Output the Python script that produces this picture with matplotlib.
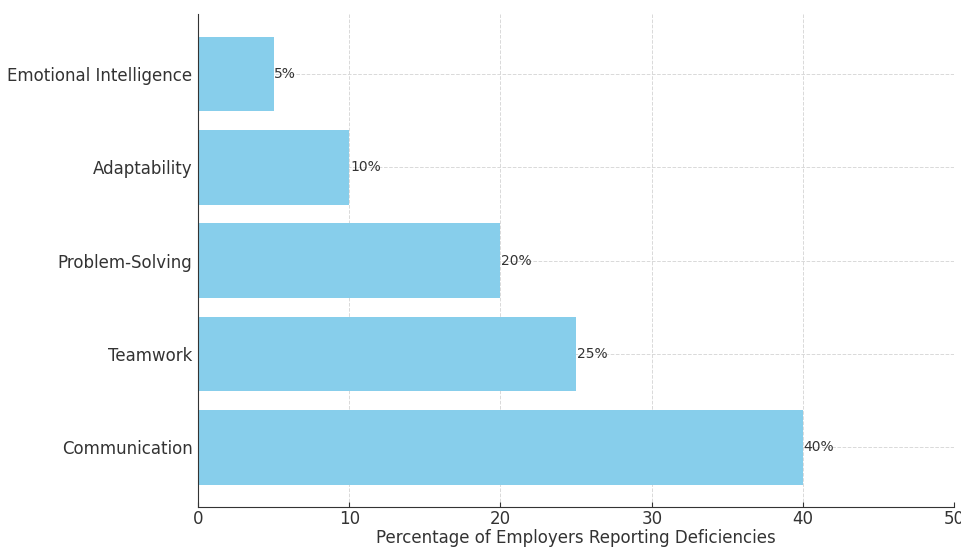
import matplotlib.pyplot as plt

plt.rcParams["font.family"] = ["DejaVu Sans"]

skills = ["Communication", "Teamwork", "Problem-Solving", "Adaptability", "Emotional Intelligence"]
percentages = [40, 25, 20, 10, 5]

fig = plt.figure(figsize=(9.61, 5.5), dpi=100)
ax = fig.add_axes([0.206, 0.078, 0.787, 0.896])

bars = ax.barh(skills, percentages, color="skyblue", height=0.8)
for bar, val in zip(bars, percentages):
    ax.text(bar.get_width() + 0.05, bar.get_y() + bar.get_height() / 2, f"{val}%",
            va="center", ha="left", fontsize=10, color="#333333")

ax.set_xlim(0, 50)
ax.set_xlabel("Percentage of Employers Reporting Deficiencies", fontsize=12,
              color="#333333", labelpad=1)
ax.tick_params(axis="both", labelsize=12, colors="#333333", direction="in", pad=2)
ax.tick_params(axis="y", pad=4)
ax.grid(True, linestyle="--", color="#d9d9d9", linewidth=0.7)
ax.set_axisbelow(True)
ax.spines["top"].set_visible(False)
ax.spines["right"].set_visible(False)
for side in ("left", "bottom"):
    ax.spines[side].set_color("#333333")

fig.savefig("out.png", dpi=100)
